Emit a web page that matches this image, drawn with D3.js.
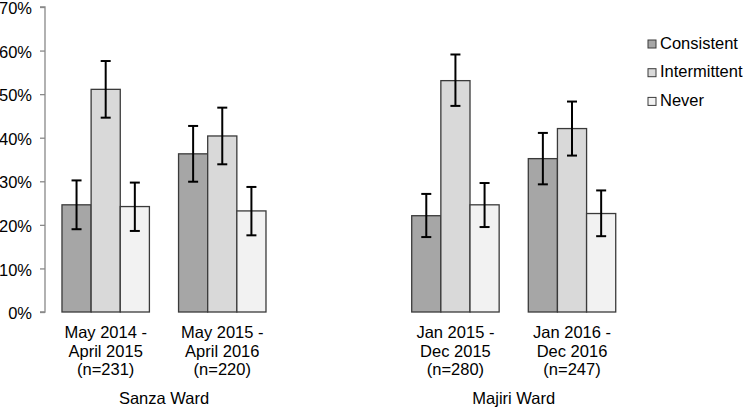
<!DOCTYPE html>
<html><head><meta charset="utf-8">
<script src="https://cdn.jsdelivr.net/npm/d3@7"></script>
<style>
body{margin:0;background:#fff;}
text{font-family:"Liberation Sans",Arial,Helvetica,sans-serif;fill:#000;}
</style></head>
<body><svg id="c" width="743" height="410"></svg>
<script>
const periods = ["May 2014 -|April 2015|(n=231)", "May 2015 -|April 2016|(n=220)", "", "Jan 2015 -|Dec 2015|(n=280)", "Jan 2016 -|Dec 2016|(n=247)"];
const wards = ["Sanza Ward", "Majiri Ward"];
const series = ["Consistent", "Intermittent", "Never"];
const colors = ["#a6a6a6", "#d9d9d9", "#f2f2f2"];
const consistent = [24.6, 36.3, 22.1, 35.2];
const intermittent = [51.1, 40.4, 53.1, 42.1];
const never = [24.2, 23.2, 24.6, 22.6];
const consistentLo = [19.0, 29.9, 17.2, 29.3];
const consistentHi = [30.2, 42.7, 27.1, 41.1];
const intermittentLo = [44.6, 33.9, 47.3, 35.9];
const intermittentHi = [57.6, 46.9, 59.1, 48.3];
const neverLo = [18.6, 17.6, 19.5, 17.4];
const neverHi = [29.7, 28.7, 29.6, 27.9];
const yTicks = [0, 10, 20, 30, 40, 50, 60, 70];

const svg = d3.select("#c");
const y = d3.scaleLinear().domain([0, 70]).range([312, 7]);
const x = d3.scaleBand().domain(d3.range(periods.length)).range([47.4, 630.3]).paddingInner(0.25).paddingOuter(0.125);
const xs = d3.scaleBand().domain(series).range([0, x.bandwidth()]);
const groupIdx = [0, 1, 3, 4];
const vals = [consistent, intermittent, never];
const los = [consistentLo, intermittentLo, neverLo];
const his = [consistentHi, intermittentHi, neverHi];

// y axis
const yAxis = svg.append("g").attr("transform", "translate(45,0)")
  .call(d3.axisLeft(y).tickValues(yTicks).tickSize(5).tickPadding(8).tickFormat(d => d + "%"));
yAxis.selectAll("path,line").attr("stroke", "#898989").attr("stroke-width", 1.3);
yAxis.select(".domain").attr("d", `M-5,${y(70)}H0V${y(0)}H-5`);
yAxis.selectAll("text").attr("font-size", 16.5).attr("fill", "#000").attr("dy", "0.4em")
  .style("font-family", '"Liberation Sans",Arial,sans-serif');

// bars
const data = [];
groupIdx.forEach((g, i) => series.forEach((s, j) => data.push({g, s, j, v: vals[j][i], lo: los[j][i], hi: his[j][i]})));
svg.append("g").selectAll("rect").data(data).join("rect")
  .attr("x", d => x(d.g) + xs(d.s)).attr("width", xs.bandwidth())
  .attr("y", d => y(d.v)).attr("height", d => y(0) - y(d.v))
  .attr("fill", d => colors[d.j]).attr("stroke", "#3a3a3a").attr("stroke-width", 1.3);

// error bars
const eb = svg.append("g").attr("stroke", "#000").attr("stroke-width", 2);
data.forEach(d => {
  const cx = x(d.g) + xs(d.s) + xs.bandwidth() / 2;
  eb.append("line").attr("x1", cx).attr("x2", cx).attr("y1", y(d.hi)).attr("y2", y(d.lo));
  eb.append("line").attr("x1", cx - 5).attr("x2", cx + 5).attr("y1", y(d.hi)).attr("y2", y(d.hi));
  eb.append("line").attr("x1", cx - 5).attr("x2", cx + 5).attr("y1", y(d.lo)).attr("y2", y(d.lo));
});

// category labels
groupIdx.forEach(g => {
  const lines = periods[g].split("|");
  const t = svg.append("text").attr("text-anchor", "middle").attr("font-size", 16.5);
  lines.forEach((l, k) => t.append("tspan").attr("x", x(g) + x.bandwidth() / 2).attr("y", 338 + k * 18.5).text(l));
});
wards.forEach((w, i) => {
  const a = groupIdx[i * 2], b = groupIdx[i * 2 + 1];
  const cx = (x(a) + x(b) + x.bandwidth()) / 2;
  svg.append("text").attr("x", cx).attr("y", 404).attr("text-anchor", "middle").attr("font-size", 16.5).text(w);
});

// legend
series.forEach((s, j) => {
  const gy = 40 + j * 28.7;
  svg.append("rect").attr("x", 648).attr("y", gy).attr("width", 8).attr("height", 8)
    .attr("fill", colors[j]).attr("stroke", "#3a3a3a").attr("stroke-width", 1);
  svg.append("text").attr("x", 660).attr("y", gy + 8.5).attr("font-size", 16.5).text(s);
});
</script></body></html>
